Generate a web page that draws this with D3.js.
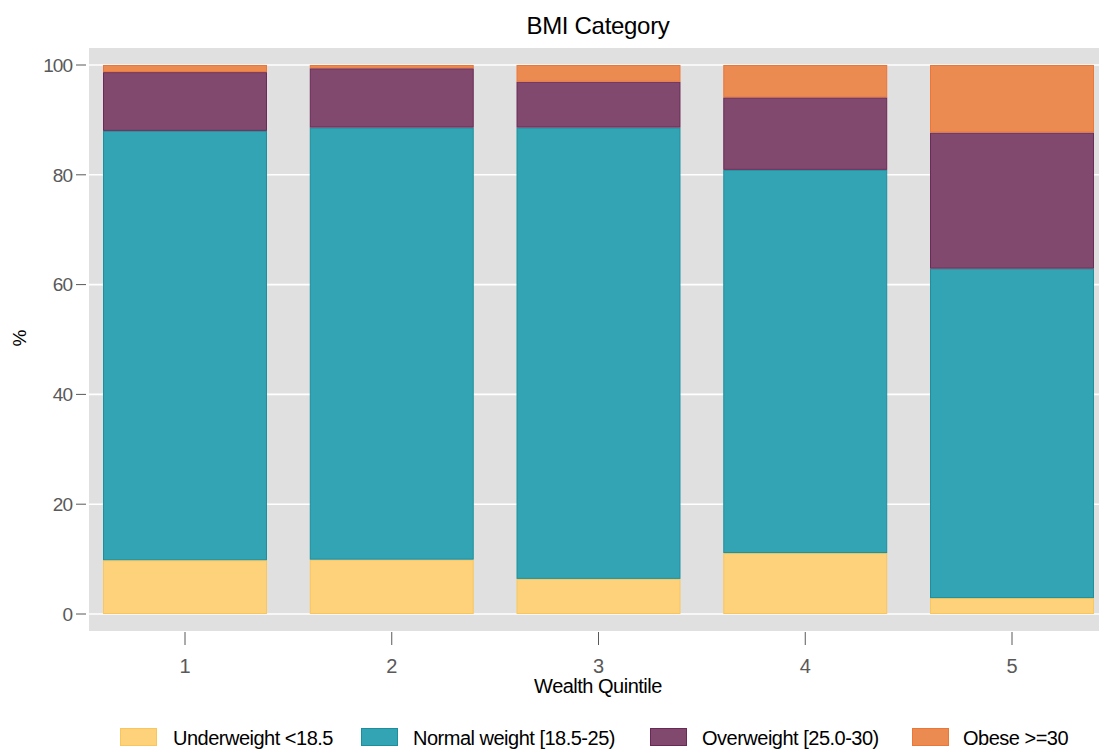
<!DOCTYPE html>
<html><head><meta charset="utf-8">
<script src="https://cdn.jsdelivr.net/npm/d3@7"></script>
<style>
body{margin:0;background:#fff;}
text{font-family:"Liberation Sans",Arial,sans-serif;}
</style></head>
<body><svg id="c" width="1099" height="751"></svg>
<script>
const quintiles = ["1","2","3","4","5"];
const seriesNames = ["Underweight <18.5","Normal weight [18.5-25)","Overweight [25.0-30)","Obese >=30"];
const underweight = [9.8, 9.9, 6.4, 11.1, 2.9];
const normal      = [78.2, 78.7, 82.2, 69.8, 60.0];
const overweight  = [10.7, 10.8, 8.35, 13.2, 24.8];
const obese       = [1.3, 0.6, 3.05, 5.9, 12.3];
const yTicks = [0,20,40,60,80,100];
const fills   = ["#FDD27B","#33A4B3","#82496E","#EC8B51"];
const strokes = ["#F9C65E","#1B8F9D","#6A2856","#EA7638"];

const svg = d3.select("#c");
const plot = {l:89, r:1099, t:48, b:631};
const y = d3.scaleLinear().domain([0,100]).range([614,65]);
const x = d3.scaleLinear().domain([1,5]).range([185,1012]);
const step = x(2)-x(1);
const bw = step*0.793;

svg.append("rect").attr("x",plot.l).attr("y",plot.t).attr("width",plot.r-plot.l).attr("height",plot.b-plot.t).attr("fill","#E0E0E0");
svg.selectAll(".grid").data(yTicks).join("line")
  .attr("x1",plot.l).attr("x2",plot.r).attr("y1",d=>y(d)).attr("y2",d=>y(d))
  .attr("stroke","#fff").attr("stroke-width",1.6);

const table = quintiles.map((q,i)=>({q:+q, Underweight:underweight[i], Normal:normal[i], Overweight:overweight[i], Obese:obese[i]}));
const keys = ["Underweight","Normal","Overweight","Obese"];
const stack = d3.stack().keys(keys)(table);
stack.forEach((layer,k)=>{
  svg.append("g").selectAll("rect").data(layer).join("rect")
    .attr("x",d=>x(d.data.q)-bw/2+0.5).attr("width",bw-1)
    .attr("y",d=>y(d[1])+0.5).attr("height",d=>Math.max(0,y(d[0])-y(d[1])-1))
    .attr("fill",fills[k]).attr("stroke",strokes[k]).attr("stroke-width",1);
});

// y axis
const ya = svg.append("g");
ya.selectAll("line").data(yTicks).join("line")
  .attr("x1",76).attr("x2",86).attr("y1",d=>y(d)).attr("y2",d=>y(d)).attr("stroke","#595959").attr("stroke-width",1);
ya.selectAll("text").data(yTicks).join("text")
  .attr("x",72).attr("y",d=>y(d)).attr("dy","0.36em").attr("text-anchor","end")
  .attr("fill","#595959").attr("font-size",19).attr("letter-spacing",-1).text(d=>d);
// x axis
const xa = svg.append("g");
xa.selectAll("line").data(quintiles).join("line")
  .attr("x1",d=>x(+d)).attr("x2",d=>x(+d)).attr("y1",632).attr("y2",645).attr("stroke","#595959").attr("stroke-width",1);
xa.selectAll("text").data(quintiles).join("text")
  .attr("x",d=>x(+d)).attr("y",673).attr("text-anchor","middle")
  .attr("fill","#595959").attr("font-size",20).text(d=>d);

svg.append("text").attr("x",598).attr("y",693).attr("text-anchor","middle").attr("font-size",20).attr("fill","#000").attr("letter-spacing",-0.5).text("Wealth Quintile");
svg.append("text").attr("x",598).attr("y",34).attr("text-anchor","middle").attr("font-size",24).attr("fill","#000").attr("letter-spacing",-0.3).text("BMI Category");
svg.append("text").attr("transform","translate(26,338) rotate(-90)").attr("text-anchor","middle").attr("font-size",19).attr("fill","#000").text("%");

// legend
const legX = [120, 361, 650, 912];
const legT = [173, 413, 702, 963];
const lg = svg.append("g");
seriesNames.forEach((n,i)=>{
  lg.append("rect").attr("x",legX[i]+0.5).attr("y",728.5).attr("width",36).attr("height",17)
    .attr("fill",fills[i]).attr("stroke",strokes[i]).attr("stroke-width",1);
  lg.append("text").attr("x",legT[i]).attr("y",745).attr("font-size",20).attr("letter-spacing",-0.5).attr("fill","#000").text(n);
});
</script></body></html>
